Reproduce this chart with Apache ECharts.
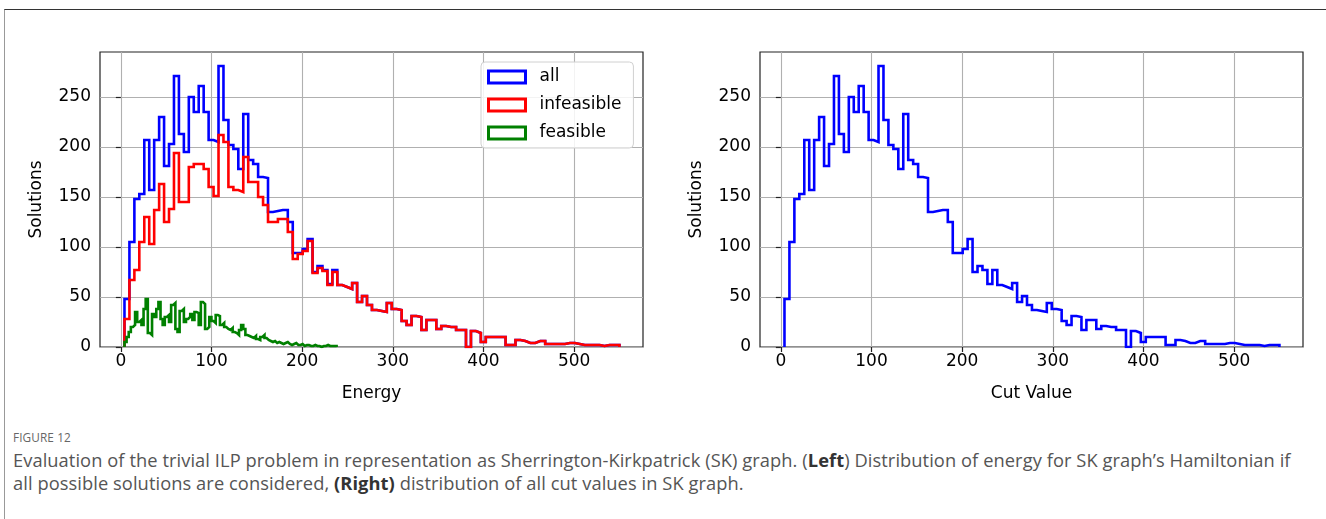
<!DOCTYPE html>
<html>
<head>
<meta charset="utf-8">
<script src="https://cdn.jsdelivr.net/npm/echarts@6/dist/echarts.min.js"></script>
<style>
  html, body { margin: 0; padding: 0; background: #fff; width: 1326px; height: 519px; overflow: hidden; }
  #frame { position: absolute; left: 4px; top: 9px; width: 1330px; height: 530px;
           border-top: 1px solid #333; border-left: 1px solid #999; }
  #chart { position: absolute; left: 0; top: 0; width: 1326px; height: 420px; }
  #caption { position: absolute; left: 13px; top: 426px; font-family: 'Open Sans', sans-serif; color: #555; }
  #caption .fig { font-size: 11.8px; letter-spacing: 0.1px; color: #666; line-height: 22px; }
  #caption .txt { font-size: 18.3px; letter-spacing: 0.07px; line-height: 23px; white-space: nowrap; }
  #caption b { color: #333; }
</style>
</head>
<body>
<div id="frame"></div>
<div id="chart"></div>
<div id="caption">
  <div class="fig">FIGURE 12</div>
  <div class="txt">Evaluation of the trivial ILP problem in representation as Sherrington-Kirkpatrick (SK) graph. (<b>Left</b>) Distribution of energy for SK graph’s Hamiltonian if<br>all possible solutions are considered, <b>(Right)</b> distribution of all cut values in SK graph.</div>
</div>
<script>
// Histogram binning for "all" and "infeasible" (energy / cut value units)
const binStart = 4;
const binWidth = 5.46;
// The feasible subset is binned over its own, narrower range
const feasibleBinStart = 4;
const feasibleBinWidth = 2.34;

// Solutions per bin: all solutions
const allCounts = [
  48, 105, 148, 153, 207, 157, 207, 230, 181, 203,
  271, 213, 195, 250, 235, 261, 235, 207, 205, 281,
  227, 202, 198, 178, 233, 187, 183, 170, 169, 135,
  136, 137, 137, 125, 94, 94, 98, 108, 75, 81,
  77, 63, 77, 62, 60, 58, 64, 45, 51, 42,
  37, 36, 35, 44, 38, 37, 26, 22, 31, 30,
  17, 27, 27, 18, 21, 20, 20, 17, 17, 0,
  16, 14, 5, 10, 10, 10, 10, 2, 2, 7,
  6, 4, 4, 6, 6, 3, 3, 3, 3, 4,
  4, 3, 2, 2, 2, 2, 1, 2, 2, 2
];

// Solutions per bin: infeasible solutions
const infeasibleCounts = [
  28, 67, 77, 105, 130, 103, 137, 163, 125, 138,
  194, 145, 145, 180, 183, 183, 178, 160, 151, 212,
  205, 160, 157, 155, 190, 165, 165, 150, 142, 125,
  125, 128, 128, 115, 88, 93, 96, 106, 74, 79,
  76, 62, 75, 62, 60, 58, 64, 45, 51, 42,
  37, 36, 35, 44, 38, 37, 26, 22, 31, 30,
  17, 27, 27, 18, 21, 20, 20, 17, 17, 0,
  16, 14, 5, 10, 10, 10, 10, 2, 2, 7,
  6, 4, 4, 6, 6, 3, 3, 3, 3, 4,
  4, 3, 2, 2, 2, 2, 1, 2, 2, 2
];

// Solutions per bin: feasible solutions
const feasibleCounts = [
  5, 10, 15, 20, 22, 35, 25, 27, 22, 38,
  48, 14, 12, 33, 30, 38, 45, 28, 22, 30,
  32, 25, 42, 44, 18, 15, 36, 38, 25, 28,
  30, 33, 27, 35, 34, 22, 45, 43, 18, 20,
  30, 26, 24, 32, 31, 22, 24, 20, 18, 17,
  19, 15, 14, 12, 17, 22, 18, 12, 11, 10,
  9, 11, 8, 7, 10, 12, 9, 7, 6, 5,
  6, 4, 5, 4, 3, 4, 5, 3, 2, 3,
  4, 2, 2, 3, 1, 2, 2, 1, 1, 2,
  1, 1, 0, 1, 1, 2, 1, 1, 1, 1
];

const xTickValues = [0, 100, 200, 300, 400, 500];
const yTickValues = [0, 50, 100, 150, 200, 250];

// Outline of a step histogram: up from zero at the first edge, across each bin, down at the last edge
function stepOutline(counts, start, width) {
  const pts = [[start, 0]];
  counts.forEach((c, i) => pts.push([start + i * width, c]));
  pts.push([start + counts.length * width, 0]);
  return pts;
}

const FONT = 'DejaVu Sans';
const textStyle = { fontFamily: FONT, fontSize: 17, color: '#000' };

function xAxisFor(gridIndex, name) {
  return {
    gridIndex, type: 'value', min: -23, max: 576,
    name, nameLocation: 'middle', nameGap: 38, nameTextStyle: textStyle,
    axisLine: { show: false },
    axisTick: { show: true, customValues: xTickValues, length: 5, lineStyle: { color: '#222', width: 1.2 } },
    axisLabel: Object.assign({ customValues: xTickValues, margin: 6 }, textStyle),
    splitLine: { show: true, lineStyle: { color: '#b0b0b0', width: 1.1 } }
  };
}
function yAxisFor(gridIndex) {
  return {
    gridIndex, type: 'value', min: 0, max: 295,
    name: 'Solutions', nameLocation: 'middle', nameGap: 55, nameTextStyle: textStyle,
    axisLine: { show: false },
    axisTick: { show: true, customValues: yTickValues, length: 5, lineStyle: { color: '#222', width: 1.2 } },
    axisLabel: Object.assign({ customValues: yTickValues, margin: 9 }, textStyle),
    splitLine: { show: true, lineStyle: { color: '#b0b0b0', width: 1.1 } }
  };
}
function stepSeries(name, points, color, axisIndex) {
  return {
    name, type: 'line', step: 'end', xAxisIndex: axisIndex, yAxisIndex: axisIndex,
    data: points, showSymbol: false, symbol: 'none', animation: false,
    lineStyle: { color, width: 2.6, join: 'miter' },
    itemStyle: { color }
  };
}

const chart = echarts.init(document.getElementById('chart'), null, { renderer: 'canvas' });
chart.setOption({
  animation: false,
  backgroundColor: 'transparent',
  grid: [
    { left: 100, top: 52, width: 543, height: 295, show: true, borderColor: '#222', borderWidth: 1.2, backgroundColor: 'transparent' },
    { left: 760, top: 52, width: 543, height: 295, show: true, borderColor: '#222', borderWidth: 1.2, backgroundColor: 'transparent' }
  ],
  xAxis: [xAxisFor(0, 'Energy'), xAxisFor(1, 'Cut Value')],
  yAxis: [yAxisFor(0), yAxisFor(1)],
  legend: {
    orient: 'vertical', left: 481, top: 62,
    icon: 'rect', itemWidth: 37, itemHeight: 12, itemGap: 10,
    padding: [6, 12, 6, 6],
    backgroundColor: 'rgba(255,255,255,0.85)', borderColor: '#d0d0d0', borderWidth: 1, borderRadius: 4,
    textStyle: { fontFamily: FONT, fontSize: 17, color: '#000', lineHeight: 18, padding: [0, 0, 0, 9] },
    data: [
      { name: 'all', itemStyle: { color: 'rgba(0,0,0,0)', borderColor: '#0000ff', borderWidth: 3 } },
      { name: 'infeasible', itemStyle: { color: 'rgba(0,0,0,0)', borderColor: '#ff0000', borderWidth: 3 } },
      { name: 'feasible', itemStyle: { color: 'rgba(0,0,0,0)', borderColor: '#008000', borderWidth: 3 } }
    ],
    selectedMode: false
  },
  series: [
    stepSeries('all', stepOutline(allCounts, binStart, binWidth), '#0000ff', 0),
    stepSeries('infeasible', stepOutline(infeasibleCounts, binStart, binWidth), '#ff0000', 0),
    stepSeries('feasible', stepOutline(feasibleCounts, feasibleBinStart, feasibleBinWidth), '#008000', 0),
    stepSeries('all ', stepOutline(allCounts, binStart, binWidth), '#0000ff', 1)
  ]
});
</script>
</body>
</html>
